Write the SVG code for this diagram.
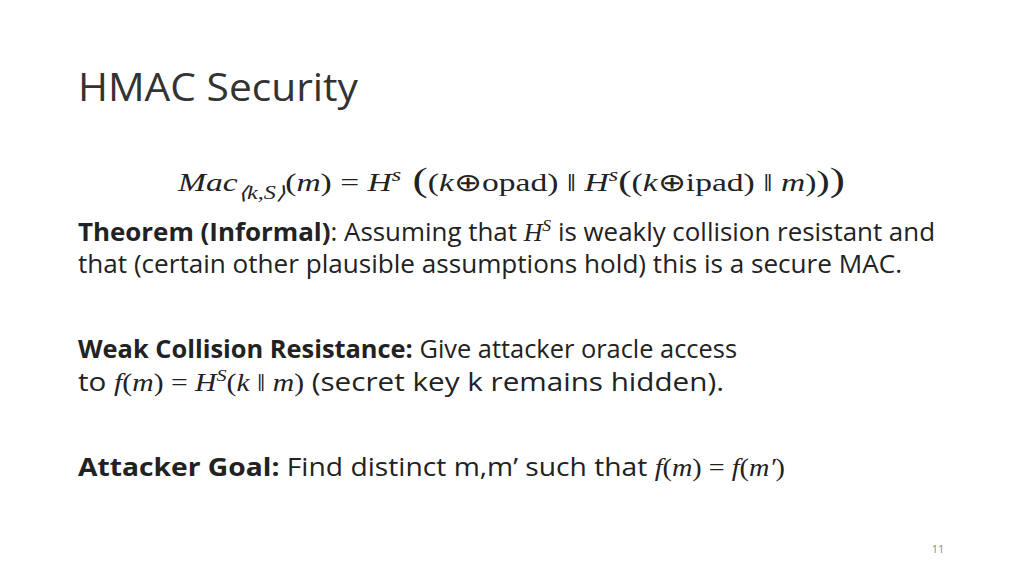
<svg xmlns="http://www.w3.org/2000/svg" width="1024" height="576" viewBox="0 0 1024 576">
<style>
.b{font-family:"Open Sans","Liberation Sans",sans-serif;font-size:25px;fill:#222}
.m{font-family:"Liberation Serif",serif;font-style:italic}
.r{font-family:"Liberation Serif",serif;font-style:normal}
.bold{font-weight:bold}
</style>
<rect width="1024" height="576" fill="#fff"/>
<text x="78" y="101" font-family="Open Sans,Liberation Sans,sans-serif" font-size="38" fill="#333" textLength="280" lengthAdjust="spacingAndGlyphs">HMAC Security</text>
<text x="178" y="191" class="b" font-size="26" textLength="667" lengthAdjust="spacingAndGlyphs"><tspan class="m">Mac</tspan><tspan class="m" font-size="18" dy="8">⟨k,S⟩</tspan><tspan class="r" dy="-8">(</tspan><tspan class="m">m</tspan><tspan class="r">) = </tspan><tspan class="m">H</tspan><tspan class="m" font-size="18" dy="-10">s</tspan><tspan class="r" dy="10" font-size="34"> (</tspan><tspan class="r">(</tspan><tspan class="m">k</tspan><tspan class="r">⊕opad) ‖ </tspan><tspan class="m">H</tspan><tspan class="m" font-size="18" dy="-10">s</tspan><tspan class="r" dy="10" font-size="30">(</tspan><tspan class="r">(</tspan><tspan class="m">k</tspan><tspan class="r">⊕ipad) ‖ </tspan><tspan class="m">m</tspan><tspan class="r">)</tspan><tspan class="r" font-size="30">)</tspan><tspan class="r" font-size="34">)</tspan></text>
<text x="78" y="241" class="b" textLength="857" lengthAdjust="spacingAndGlyphs"><tspan class="bold">Theorem (Informal)</tspan>: Assuming that <tspan class="m">H</tspan><tspan class="m" font-size="17" dy="-10">S</tspan><tspan dy="10"> is weakly collision resistant and</tspan></text>
<text x="78" y="273" class="b" textLength="824" lengthAdjust="spacingAndGlyphs">that (certain other plausible assumptions hold) this is a secure MAC.</text>
<text x="78" y="358" class="b" textLength="659" lengthAdjust="spacingAndGlyphs"><tspan class="bold">Weak Collision Resistance:</tspan> Give attacker oracle access</text>
<text x="78" y="391" class="b" textLength="646" lengthAdjust="spacingAndGlyphs">to <tspan class="m">f</tspan><tspan class="r">(</tspan><tspan class="m">m</tspan><tspan class="r">) = </tspan><tspan class="m">H</tspan><tspan class="m" font-size="17" dy="-10">S</tspan><tspan class="r" dy="10">(</tspan><tspan class="m">k</tspan><tspan class="r"> ‖ </tspan><tspan class="m">m</tspan><tspan class="r">)</tspan> (secret key k remains hidden).</text>
<text x="78" y="476" class="b" textLength="707" lengthAdjust="spacingAndGlyphs"><tspan class="bold">Attacker Goal:</tspan> Find distinct m,m’ such that <tspan class="m">f</tspan><tspan class="r">(</tspan><tspan class="m">m</tspan><tspan class="r">) = </tspan><tspan class="m">f</tspan><tspan class="r">(</tspan><tspan class="m">m′</tspan><tspan class="r">)</tspan></text>
<text x="938" y="553" font-family="Open Sans,Liberation Sans,sans-serif" font-size="11" fill="#888" text-anchor="middle">11</text>
</svg>
